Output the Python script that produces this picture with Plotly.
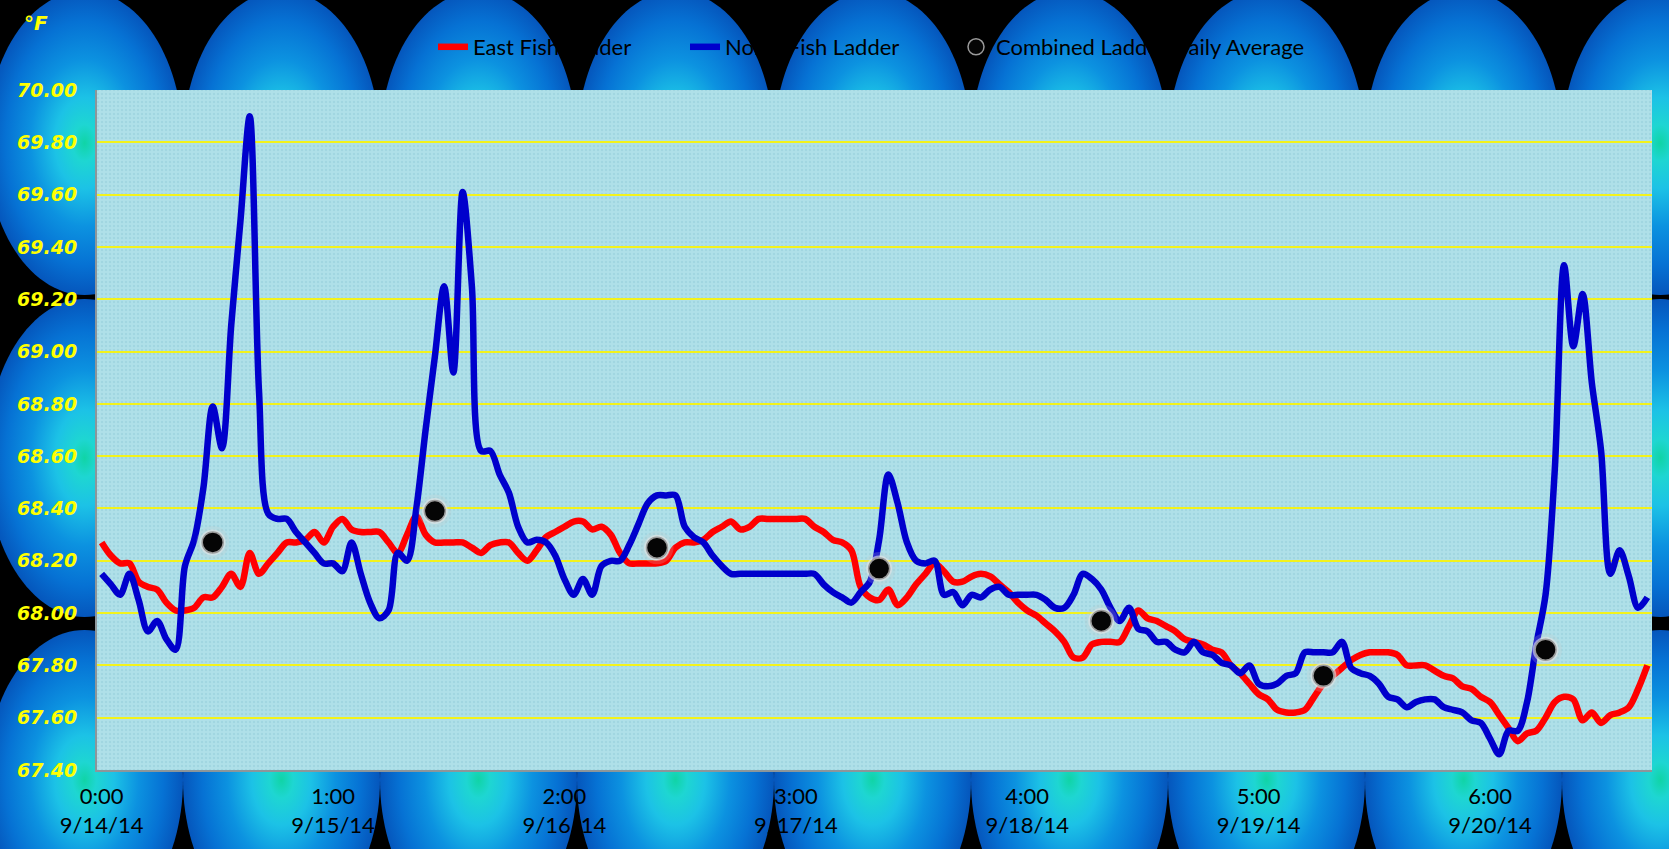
import numpy as np
import plotly.graph_objects as go

# ---------------- data ----------------
hours = list(range(168))
east = [68.27, 68.22, 68.19, 68.19, 68.12, 68.10, 68.09, 68.04, 68.01, 68.01,
        68.02, 68.06, 68.06, 68.10, 68.15, 68.10, 68.23, 68.15, 68.19, 68.23,
        68.27, 68.27, 68.28, 68.31, 68.27, 68.33, 68.36, 68.32, 68.31, 68.31,
        68.31, 68.27, 68.23, 68.30, 68.37, 68.30, 68.27, 68.27, 68.27, 68.27,
        68.25, 68.23, 68.26, 68.27, 68.27, 68.23, 68.20, 68.24, 68.29, 68.31,
        68.33, 68.35, 68.35, 68.32, 68.33, 68.30, 68.23, 68.19, 68.19, 68.19,
        68.19, 68.20, 68.25, 68.27, 68.27, 68.28, 68.31, 68.33, 68.35, 68.32,
        68.33, 68.36, 68.36, 68.36, 68.36, 68.36, 68.36, 68.33, 68.31, 68.28,
        68.27, 68.24, 68.10, 68.06, 68.05, 68.09, 68.03, 68.06, 68.11, 68.15,
        68.19, 68.16, 68.12, 68.12, 68.14, 68.15, 68.14, 68.11, 68.08, 68.04,
        68.01, 67.99, 67.96, 67.93, 67.89, 67.83, 67.83, 67.88, 67.89, 67.89,
        67.89, 67.95, 68.01, 67.98, 67.97, 67.95, 67.93, 67.90, 67.89, 67.88,
        67.86, 67.85, 67.80, 67.77, 67.73, 67.69, 67.67, 67.63, 67.62, 67.62,
        67.63, 67.68, 67.73, 67.76, 67.79, 67.82, 67.84, 67.85, 67.85, 67.85,
        67.84, 67.80, 67.80, 67.80, 67.78, 67.76, 67.75, 67.72, 67.71, 67.68,
        67.66, 67.61, 67.56, 67.51, 67.54, 67.55, 67.60, 67.66, 67.68, 67.67,
        67.59, 67.62, 67.58, 67.61, 67.62, 67.64, 67.71, 67.80]
north = [68.15, 68.11, 68.07, 68.15, 68.05, 67.93, 67.97, 67.90, 67.86, 68.18,
         68.28, 68.48, 68.79, 68.63, 69.10, 69.50, 69.90, 68.85, 68.38, 68.36,
         68.36, 68.31, 68.27, 68.23, 68.19, 68.19, 68.16, 68.27, 68.15, 68.04,
         67.98, 68.01, 68.23, 68.20, 68.40, 68.70, 68.98, 69.25, 68.92, 69.61,
         69.25, 68.62, 68.62, 68.53, 68.46, 68.33, 68.27, 68.28, 68.27, 68.22,
         68.13, 68.07, 68.13, 68.07, 68.18, 68.20, 68.20, 68.26, 68.34, 68.42,
         68.45, 68.45, 68.45, 68.33, 68.29, 68.27, 68.22, 68.18, 68.15, 68.15,
         68.15, 68.15, 68.15, 68.15, 68.15, 68.15, 68.15, 68.15, 68.11, 68.08,
         68.06, 68.04, 68.08, 68.12, 68.28, 68.53, 68.42, 68.27, 68.20, 68.19,
         68.20, 68.07, 68.08, 68.03, 68.07, 68.06, 68.09, 68.10, 68.07, 68.07,
         68.07, 68.07, 68.05, 68.02, 68.02, 68.07, 68.15, 68.13, 68.09, 68.02,
         67.97, 68.02, 67.94, 67.93, 67.89, 67.89, 67.86, 67.85, 67.89, 67.85,
         67.84, 67.81, 67.80, 67.77, 67.80, 67.73, 67.72, 67.73, 67.76, 67.77,
         67.85, 67.85, 67.85, 67.85, 67.89, 67.79, 67.77, 67.76, 67.73, 67.68,
         67.67, 67.64, 67.66, 67.67, 67.67, 67.64, 67.63, 67.62, 67.59, 67.58,
         67.52, 67.46, 67.55, 67.55, 67.66, 67.88, 68.07, 68.55, 69.33, 69.02,
         69.22, 68.88, 68.62, 68.15, 68.24, 68.14, 68.02, 68.06]
avg_hours = [12, 36, 60, 84, 108, 132, 156]
avg_vals = [68.27, 68.39, 68.25, 68.17, 67.97, 67.76, 67.86]
tick_hours = [0, 25, 50, 75, 100, 125, 150]
tick_text = ["0:00<br>9/14/14", "1:00<br>9/15/14", "2:00<br>9/16/14",
             "3:00<br>9/17/14", "4:00<br>9/18/14", "5:00<br>9/19/14",
             "6:00<br>9/20/14"]
series_names = ["East Fish Ladder", "North Fish Ladder", "Combined Ladder Daily Average"]
title_text = "Fish Ladder Water Temperatures (Hourly) with Daily Average Temperatures"

# ---------------- layout geometry ----------------
W, H = 1669, 849
L, R, T, B = 97, 1652, 90, 770

fig = go.Figure()

# decorative ellipse grid (background picture of the chart area)
CS = [[0, "#10d4a6"], [0.12, "#1ed6d2"], [0.3, "#1cc2e6"], [0.55, "#0c92e0"],
      [0.8, "#0672d4"], [1, "#0556bc"]]
a = 98.5
rows = [(143, 152), (458, 159), (780, 150)]   # (centre y, half height) in px
tt = np.linspace(0, 2 * np.pi, 121)
for cy, b in rows:
    for k in range(-1, 10):
        cx = 84.5 + 197 * k
        fig.add_trace(go.Scatter(x=cx + a * np.cos(tt), y=cy + b * np.sin(tt),
                                 mode="none", fill="toself",
                                 fillgradient=dict(type="radial", colorscale=CS),
                                 hoverinfo="skip", showlegend=False,
                                 xaxis="x", yaxis="y"))

# plot area background
fig.add_trace(go.Scatter(x=[L, R, R, L, L], y=[T, T, B, B, T], mode="none",
                         fill="toself", fillcolor="#afe0e9",
                         fillpattern=dict(shape=".", bgcolor="#afe0e9", fgcolor="#92ccd7",
                                          size=4, solidity=0.3),
                         hoverinfo="skip", showlegend=False, xaxis="x", yaxis="y"))

# title (black text, largely above the top edge and lost against the black background)
fig.add_trace(go.Scatter(x=[W / 2], y=[-6], mode="text", text=[title_text],
                         textfont=dict(family="Lato", size=30, color="black"),
                         cliponaxis=False, hoverinfo="skip", showlegend=False,
                         xaxis="x", yaxis="y"))

# data
fig.add_trace(go.Scatter(x=hours, y=east, name=series_names[0], mode="lines",
                         line=dict(color="#ff0000", width=6.5, shape="spline", smoothing=0.9),
                         legendwidth=207, xaxis="x2", yaxis="y2"))
fig.add_trace(go.Scatter(x=hours, y=north, name=series_names[1], mode="lines",
                         line=dict(color="#0000cc", width=6.5, shape="spline", smoothing=0.9),
                         legendwidth=226, xaxis="x2", yaxis="y2"))
# soft glow behind the daily-average balls
fig.add_trace(go.Scatter(x=avg_hours, y=avg_vals, mode="markers", showlegend=False,
                         marker=dict(size=33, color="rgba(200,200,200,0.22)"),
                         hoverinfo="skip", xaxis="x2", yaxis="y2"))
fig.add_trace(go.Scatter(x=avg_hours, y=avg_vals, mode="markers", showlegend=False,
                         marker=dict(size=26, color="rgba(228,228,228,0.6)"),
                         hoverinfo="skip", xaxis="x2", yaxis="y2"))
fig.add_trace(go.Scatter(x=avg_hours, y=avg_vals, name=series_names[2], mode="markers",
                         marker=dict(size=21, color="#050505",
                                     line=dict(color="#9a9a9a", width=1.5)),
                         legendwidth=330, xaxis="x2", yaxis="y2"))

fig.add_annotation(text="°F", x=36 / W, y=1 - 23 / H, xref="paper", yref="paper",
                   showarrow=False, xanchor="center", yanchor="middle",
                   font=dict(family="DejaVu Sans", size=20, color="#ffff00",
                             weight="bold", style="italic"))

fig.update_layout(
    width=W, height=H,
    margin=dict(l=0, r=0, t=0, b=0, pad=0, autoexpand=False),
    paper_bgcolor="black", plot_bgcolor="rgba(0,0,0,0)",
    xaxis=dict(domain=[0, 1], range=[0, W], visible=False, fixedrange=True),
    yaxis=dict(domain=[0, 1], range=[H, 0], visible=False, fixedrange=True),
    xaxis2=dict(domain=[L / W, R / W], anchor="y2", range=[-0.5, 167.5],
                tickmode="array", tickvals=tick_hours, ticktext=tick_text,
                showgrid=False, zeroline=False, showline=True, linecolor="#8c969a",
                linewidth=2, ticks="", ticklabelstandoff=6, automargin=False,
                tickfont=dict(family="Lato", size=22, color="black")),
    yaxis2=dict(domain=[1 - B / H, 1 - T / H], anchor="x2", range=[67.4, 70.0],
                tick0=67.4, dtick=0.2, tickformat=".2f", showgrid=True,
                gridcolor="#f2f21c", gridwidth=2, zeroline=False, showline=True,
                linecolor="#8c969a", linewidth=2, ticks="", ticklabelstandoff=14,
                automargin=False,
                tickfont=dict(family="DejaVu Sans", size=19, color="#ffff00",
                              weight="bold", style="italic")),
    legend=dict(orientation="h", x=(473 - 40) / W, xanchor="left",
                y=1 - 47 / H, yanchor="middle", bgcolor="rgba(0,0,0,0)",
                font=dict(family="Lato", size=22, color="black"),
                entrywidthmode="pixels"),
    showlegend=True,
)

fig.write_html("out.html", config={"displayModeBar": False},
               post_script="document.body.style.margin='0';")
